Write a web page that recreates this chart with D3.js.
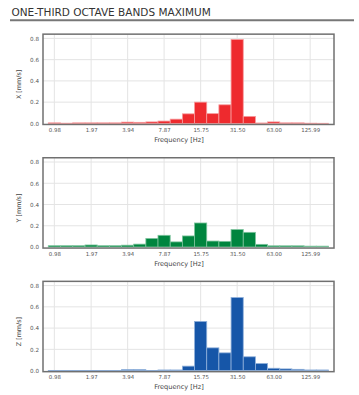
<!DOCTYPE html>
<html><head><meta charset="utf-8">
<script src="https://cdn.jsdelivr.net/npm/d3@7"></script>
<style>body{margin:0;background:#fff}svg{display:block}</style></head>
<body><svg id="c" width="359" height="395"></svg>
<script>
const title = "ONE-THIRD OCTAVE BANDS MAXIMUM";
const bands = [0.98,1.24,1.56,1.97,2.48,3.13,3.94,4.96,6.25,7.87,9.92,12.5,15.75,19.84,25.0,31.5,39.69,50.0,63.0,79.37,100.0,125.99,158.74];
const tickValues = [0.98,1.97,3.94,7.87,15.75,31.5,63,125.99];
const tickLabels = ["0.98","1.97","3.94","7.87","15.75","31.50","63.00","125.99"];
const yTicks = [0,0.2,0.4,0.6,0.8];
const xSeries = [0.005,0.002,0.005,0.005,0.005,0.005,0.012,0.01,0.014,0.022,0.04,0.09,0.2,0.092,0.175,0.79,0.066,0.004,0.014,0.005,0.005,0.002,0.001];
const ySeries = [0.012,0.012,0.012,0.019,0.012,0.012,0.017,0.027,0.08,0.11,0.048,0.104,0.226,0.056,0.053,0.164,0.138,0.025,0.011,0.011,0.011,0.008,0.008];
const zSeries = [0.001,0.001,0.001,0.001,0.001,0.001,0.009,0.009,0.001,0.006,0.006,0.042,0.463,0.214,0.167,0.688,0.13,0.067,0.022,0.016,0.012,0.006,0.006];
const panels = [
  {label:"X [mm/s]", values:xSeries, fill:"#ee2a2e", stroke:"#f79a9c"},
  {label:"Y [mm/s]", values:ySeries, fill:"#00853f", stroke:"#7cc39c"},
  {label:"Z [mm/s]", values:zSeries, fill:"#1656a8", stroke:"#8fb0da"}
];

const svg = d3.select("#c");
const font = "DejaVu Sans, Verdana, sans-serif";

svg.append("text").attr("x",11.5).attr("y",15.5).attr("font-family",font)
  .attr("font-size",10.5).attr("fill","#333").text(title);
svg.append("line").attr("x1",10).attr("x2",354).attr("y1",20.3).attr("y2",20.3)
  .attr("stroke","#777").attr("stroke-width",2);

const x = d3.scaleLog().domain([0.79,198]).range([43,334]);
const half = Math.pow(2,1/6);

panels.forEach((p,i)=>{
  const zeroY = 123.4 + i*123.6;
  const y = d3.scaleLinear().domain([0,0.8]).range([zeroY, zeroY-85]);
  const g = svg.append("g");
  const top = y(0.84), bot = y(-0.01);
  g.selectAll(".hg").data(yTicks.slice(1)).join("line")
    .attr("x1",43).attr("x2",334).attr("y1",d=>y(d)).attr("y2",d=>y(d))
    .attr("stroke","#e4e4e4").attr("stroke-width",1);
  g.selectAll(".vg").data(tickValues).join("line")
    .attr("x1",d=>x(d)).attr("x2",d=>x(d)).attr("y1",top).attr("y2",bot)
    .attr("stroke","#e4e4e4").attr("stroke-width",1);
  g.selectAll(".bar").data(p.values).join("rect")
    .attr("x",(d,j)=>x(bands[j]/half))
    .attr("width",(d,j)=>x(bands[j]*half)-x(bands[j]/half))
    .attr("y",d=>y(d)).attr("height",d=>y(0)-y(d))
    .attr("fill",p.fill).attr("stroke",p.stroke).attr("stroke-width",0.8);
  g.append("rect").attr("x",43).attr("y",top).attr("width",291).attr("height",bot-top)
    .attr("fill","none").attr("stroke","#707070").attr("stroke-width",1.5);
  const ya = d3.axisLeft(y).tickValues(yTicks).tickFormat(d3.format(".1f")).tickSize(0).tickPadding(4);
  const yg = g.append("g").attr("transform","translate(43,0)").call(ya);
  yg.select(".domain").remove();
  yg.selectAll("text").attr("font-family",font).attr("font-size",5.6).attr("fill","#555");
  const xa = d3.axisBottom(x).tickValues(tickValues).tickFormat((d,k)=>tickLabels[k]).tickSize(0).tickPadding(4);
  const xg = g.append("g").attr("transform",`translate(0,${bot})`).call(xa);
  xg.select(".domain").remove();
  xg.selectAll("text").attr("font-family",font).attr("font-size",5.4).attr("fill","#555");
  g.append("text").attr("x",179).attr("y",zeroY+18.5).attr("text-anchor","middle")
    .attr("font-family",font).attr("font-size",6.6).attr("fill","#444").text("Frequency [Hz]");
  g.append("text").attr("transform",`translate(21,${zeroY-39}) rotate(-90)`).attr("text-anchor","middle")
    .attr("font-family",font).attr("font-size",6.4).attr("fill","#444").text(p.label);
});
</script></body></html>
